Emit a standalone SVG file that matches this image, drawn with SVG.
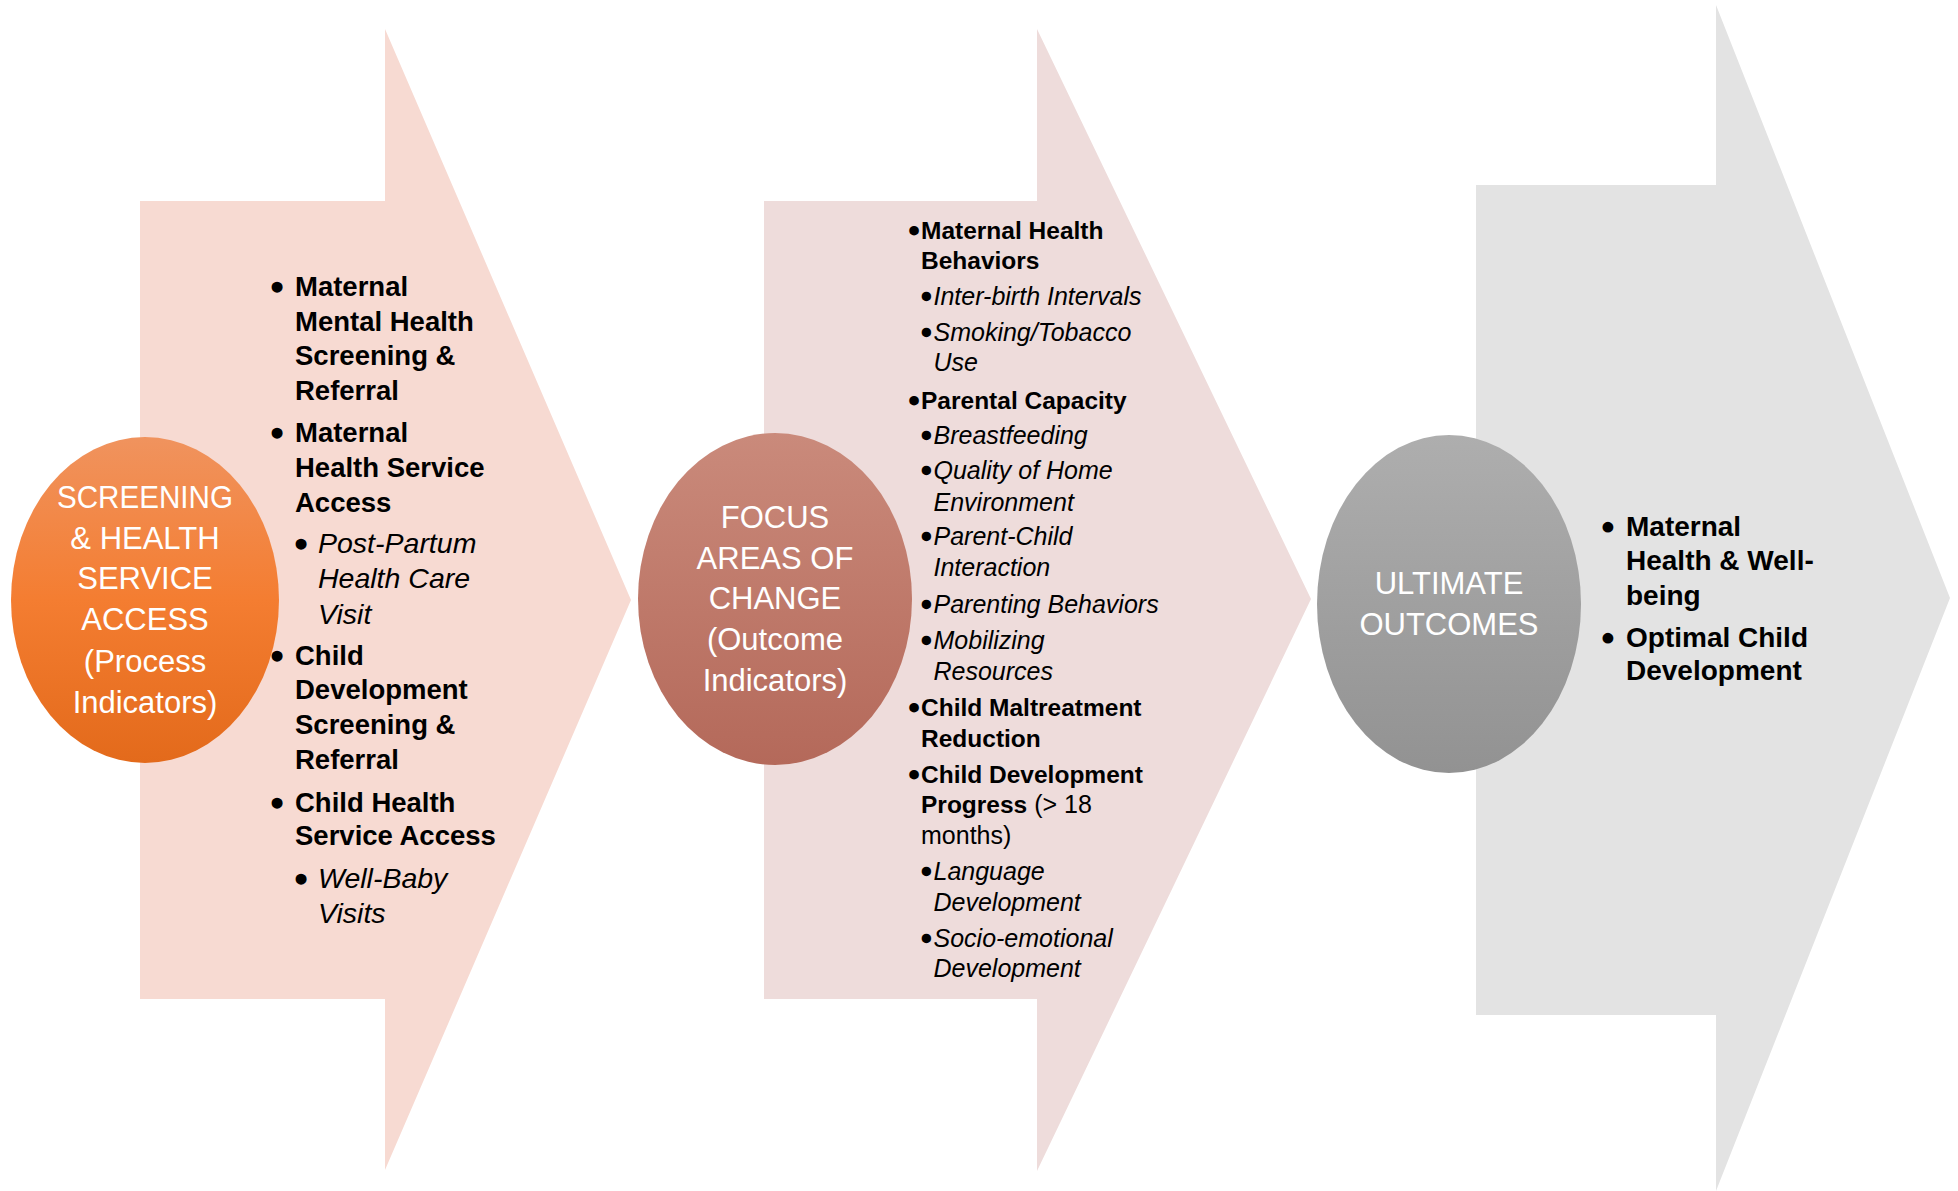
<svg xmlns="http://www.w3.org/2000/svg" width="1958" height="1191" viewBox="0 0 1958 1191">
  <defs>
    <linearGradient id="gOrange" x1="0" y1="0" x2="0" y2="1">
      <stop offset="0" stop-color="#F0935E"/>
      <stop offset="0.5" stop-color="#F47D31"/>
      <stop offset="1" stop-color="#E36A1B"/>
    </linearGradient>
    <linearGradient id="gRose" x1="0" y1="0" x2="0" y2="1">
      <stop offset="0" stop-color="#CA8A7B"/>
      <stop offset="1" stop-color="#B4695A"/>
    </linearGradient>
    <linearGradient id="gGrey" x1="0" y1="0" x2="0" y2="1">
      <stop offset="0" stop-color="#AEAEAE"/>
      <stop offset="1" stop-color="#929292"/>
    </linearGradient>
    <style>
      text { font-family: "Liberation Sans", Arial, sans-serif; fill: #000; }
      .oval { fill: #FFFFFF; font-size: 31px; text-anchor: middle; }
      .b1 { font-size: 27.5px; font-weight: bold; }
      .i1 { font-size: 28.5px; font-style: italic; }
      .b2 { font-size: 24.5px; font-weight: bold; }
      .i2 { font-size: 25px; font-style: italic; }
      .r2 { font-size: 25px; }
      .b3 { font-size: 28px; font-weight: bold; }
      /* bullet glyphs, thickened with a round stroke */
      .dot { text-anchor: middle; font-weight: normal; font-style: normal; stroke: #000; stroke-linejoin: round; }
      .d1 { font-size: 27.5px; stroke-width: 3.5px; }
      .d2 { font-size: 24.5px; stroke-width: 3px; }
      .d2s { font-size: 25px; stroke-width: 2.6px; }
      .d3 { font-size: 28px; stroke-width: 3.2px; }
    </style>
  </defs>

  <!-- Stage 1: screening & health service access -->
  <g id="stage-screening">
    <polygon points="140,201 385,201 385,29 631,600 385,1170 385,999 140,999" fill="#F7DAD2"/>
    <g id="list-screening">
      <text class="dot d1" x="277" y="296">•</text>
      <text class="b1" x="295" y="296">Maternal</text>
      <text class="b1" x="295" y="330.5">Mental Health</text>
      <text class="b1" x="295" y="365">Screening &amp;</text>
      <text class="b1" x="295" y="400">Referral</text>
      <text class="dot d1" x="277" y="442">•</text>
      <text class="b1" x="295" y="442">Maternal</text>
      <text class="b1" x="295" y="476.5">Health Service</text>
      <text class="b1" x="295" y="512">Access</text>
      <text class="dot d1" x="301" y="553">•</text>
      <text class="i1" x="318" y="553">Post-Partum</text>
      <text class="i1" x="318" y="588">Health Care</text>
      <text class="i1" x="318" y="623.5">Visit</text>
      <text class="dot d1" x="277" y="664.5">•</text>
      <text class="b1" x="295" y="664.5">Child</text>
      <text class="b1" x="295" y="699">Development</text>
      <text class="b1" x="295" y="734">Screening &amp;</text>
      <text class="b1" x="295" y="769">Referral</text>
      <text class="dot d1" x="277" y="811.5">•</text>
      <text class="b1" x="295" y="811.5">Child Health</text>
      <text class="b1" x="295" y="845">Service Access</text>
      <text class="dot d1" x="301" y="888">•</text>
      <text class="i1" x="318" y="888">Well-Baby</text>
      <text class="i1" x="318" y="923">Visits</text>
    </g>
  </g>

  <!-- Stage 2: focus areas of change -->
  <g id="stage-focus">
    <polygon points="764,201 1037,201 1037,29 1311,599 1037,1171 1037,999 764,999" fill="#EEDCDB"/>
    <g id="list-focus">
      <text class="dot d2" x="914" y="239">•</text>
      <text class="b2" x="921" y="239">Maternal Health</text>
      <text class="b2" x="921" y="269">Behaviors</text>
      <text class="dot d2s" x="926.5" y="305">•</text>
      <text class="i2" x="933.5" y="305">Inter-birth Intervals</text>
      <text class="dot d2s" x="926.5" y="340.6">•</text>
      <text class="i2" x="933.5" y="340.6">Smoking/Tobacco</text>
      <text class="i2" x="933.5" y="371">Use</text>
      <text class="dot d2" x="914" y="408.7">•</text>
      <text class="b2" x="921" y="408.7">Parental Capacity</text>
      <text class="dot d2s" x="926.5" y="444">•</text>
      <text class="i2" x="933.5" y="444">Breastfeeding</text>
      <text class="dot d2s" x="926.5" y="479">•</text>
      <text class="i2" x="933.5" y="479">Quality of Home</text>
      <text class="i2" x="933.5" y="511">Environment</text>
      <text class="dot d2s" x="926.5" y="545">•</text>
      <text class="i2" x="933.5" y="545">Parent-Child</text>
      <text class="i2" x="933.5" y="576">Interaction</text>
      <text class="dot d2s" x="926.5" y="613">•</text>
      <text class="i2" x="933.5" y="613">Parenting Behaviors</text>
      <text class="dot d2s" x="926.5" y="649.4">•</text>
      <text class="i2" x="933.5" y="649.4">Mobilizing</text>
      <text class="i2" x="933.5" y="680">Resources</text>
      <text class="dot d2" x="914" y="715.7">•</text>
      <text class="b2" x="921" y="715.7">Child Maltreatment</text>
      <text class="b2" x="921" y="747">Reduction</text>
      <text class="dot d2" x="914" y="782.8">•</text>
      <text class="b2" x="921" y="782.8">Child Development</text>
      <text class="r2" x="921" y="813"><tspan font-weight="bold" font-size="24.5px">Progress</tspan> (&gt; 18</text>
      <text class="r2" x="921" y="843.7">months)</text>
      <text class="dot d2s" x="926.5" y="880">•</text>
      <text class="i2" x="933.5" y="880">Language</text>
      <text class="i2" x="933.5" y="910.8">Development</text>
      <text class="dot d2s" x="926.5" y="946.5">•</text>
      <text class="i2" x="933.5" y="946.5">Socio-emotional</text>
      <text class="i2" x="933.5" y="977">Development</text>
    </g>
  </g>

  <!-- Stage 3: ultimate outcomes -->
  <g id="stage-outcomes">
    <polygon points="1476,185 1716,185 1716,5 1950,598 1716,1191 1716,1015 1476,1015" fill="#E3E3E3"/>
    <g id="list-outcomes">
      <text class="dot d3" x="1608" y="536">•</text>
      <text class="b3" x="1626" y="536">Maternal</text>
      <text class="b3" x="1626" y="570">Health &amp; Well-</text>
      <text class="b3" x="1626" y="605">being</text>
      <text class="dot d3" x="1608" y="646.7">•</text>
      <text class="b3" x="1626" y="646.7">Optimal Child</text>
      <text class="b3" x="1626" y="680">Development</text>
    </g>
  </g>

  <!-- Oval headers -->
  <g id="oval-screening">
    <ellipse cx="145" cy="600" rx="134" ry="163" fill="url(#gOrange)"/>
    <text class="oval" x="145" y="508" textLength="176" lengthAdjust="spacingAndGlyphs">SCREENING</text>
    <text class="oval" x="145" y="549">&amp; HEALTH</text>
    <text class="oval" x="145" y="589">SERVICE</text>
    <text class="oval" x="145" y="630">ACCESS</text>
    <text class="oval" x="145" y="672">(Process</text>
    <text class="oval" x="145" y="713">Indicators)</text>
  </g>
  <g id="oval-focus">
    <ellipse cx="775" cy="599" rx="137" ry="166" fill="url(#gRose)"/>
    <text class="oval" x="775" y="528">FOCUS</text>
    <text class="oval" x="775" y="568.5">AREAS OF</text>
    <text class="oval" x="775" y="609">CHANGE</text>
    <text class="oval" x="775" y="650">(Outcome</text>
    <text class="oval" x="775" y="691">Indicators)</text>
  </g>
  <g id="oval-outcomes">
    <ellipse cx="1449" cy="604" rx="132" ry="169" fill="url(#gGrey)"/>
    <text class="oval" x="1449" y="594">ULTIMATE</text>
    <text class="oval" x="1449" y="635">OUTCOMES</text>
  </g>
</svg>
